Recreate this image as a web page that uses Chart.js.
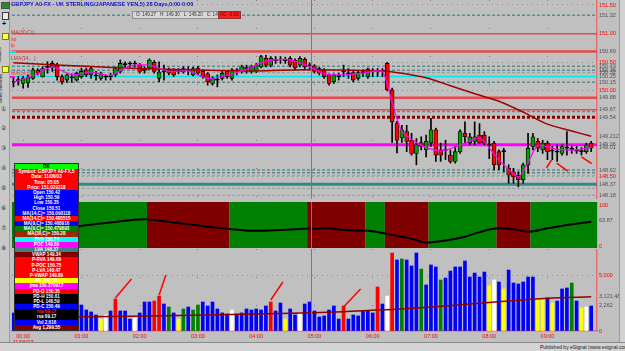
<!DOCTYPE html>
<html>
<head>
<meta charset="utf-8">
<script src="https://cdn.jsdelivr.net/npm/chart.js@4.4.1/dist/chart.umd.min.js"></script>
<style>
  html, body { margin: 0; padding: 0; background: #c0c0c0; }
  #wrap { position: relative; width: 625px; height: 351px; overflow: hidden; background: #c0c0c0; font-family: "Liberation Sans", Arial, sans-serif; }
  #wrap canvas { position: absolute; left: 0; }
  .abs { position: absolute; white-space: nowrap; }
  #dw { position: absolute; left: 14px; top: 163px; width: 63px; border: 1px solid #303030; background: #000; }
  #dw div { height: 5.2px; line-height: 5.3px; font-size: 4.6px; font-weight: bold; text-align: center; color: #fff; overflow: hidden; white-space: nowrap; }
  #toolbar { position: absolute; left: 0; top: 0; width: 9px; height: 342px; border-right: 1px solid #9a9a9a; background: #c8c8c8; }
  #status { position: absolute; left: 0; top: 342px; width: 625px; height: 9px; background: #d4d4d4; border-top: 1px solid #8a8a8a; }
</style>
</head>
<body>
<div id="wrap">
  <canvas id="price" width="625" height="199" style="top:0px"></canvas>
  <canvas id="osc" width="625" height="46" style="top:202px"></canvas>
  <canvas id="vol" width="625" height="97" style="top:249px"></canvas>
</div>
<script>
// 5 minute bars, 23:50 .. 09:45
const times = [];
for (let k = 0; k < 120; k++) {
  const m = (23 * 60 + 50 + 5 * k) % 1440;
  times.push(String(Math.floor(m / 60)).padStart(2, '0') + ':' + String(m % 60).padStart(2, '0'));
}
const hourTicks = [2, 14, 26, 38, 50, 62, 74, 86, 98, 110];
const hourLabels = ['00:00', '01:00', '02:00', '03:00', '04:00', '05:00', '06:00', '07:00', '08:00', '09:00'];

const opens = [
  150.16,150.18,150.13,150.14,150.22,150.36,150.25,150.42,150.40,150.45,
  150.25,150.19,150.24,150.19,150.25,150.37,150.28,150.27,150.22,150.24,
  150.26,150.28,150.34,150.47,150.48,150.47,150.45,150.37,150.40,150.50,
  150.22,150.33,150.37,150.37,150.34,150.33,150.36,150.28,150.40,150.34,
  150.30,150.13,150.19,150.22,150.34,150.22,150.36,150.34,150.39,150.34,
  150.35,150.42,150.57,150.45,150.54,150.54,150.53,150.57,150.54,150.45,
  150.55,150.45,150.44,150.39,150.37,150.28,150.16,150.25,150.33,150.31,
  150.32,150.22,150.32,150.25,150.34,150.35,150.34,150.48,150.02,149.44,
  149.18,149.29,149.14,148.91,149.10,148.97,149.09,149.32,148.97,148.97,
  148.88,148.77,148.94,149.26,149.09,149.12,149.23,149.23,149.06,149.09,
  148.94,148.95,148.65,148.59,148.53,148.45,148.71,149.03,149.12,148.97,
  149.09,148.96,148.94,148.91,149.00,148.98,148.96,148.95,148.94,149.09];
const highs = [
  150.22,150.25,150.26,150.28,150.40,150.39,150.42,150.51,150.52,150.48,
  150.28,150.30,150.30,150.33,150.40,150.40,150.42,150.34,150.33,150.28,
  150.31,150.42,150.54,150.51,150.51,150.52,150.48,150.42,150.56,150.53,
  150.51,150.45,150.40,150.39,150.39,150.42,150.42,150.41,150.43,150.37,
  150.32,150.25,150.28,150.34,150.36,150.39,150.39,150.45,150.45,150.45,
  150.48,150.62,150.62,150.60,150.60,150.60,150.59,150.60,150.56,150.60,
  150.58,150.49,150.46,150.41,150.39,150.30,150.30,150.31,150.45,150.39,
  150.34,150.34,150.37,150.40,150.39,150.39,150.39,150.50,150.05,149.47,
  149.40,149.40,149.26,149.17,149.20,149.23,149.52,149.35,149.09,149.14,
  148.97,149.03,149.32,149.46,149.26,149.46,149.43,149.29,149.20,149.12,
  148.97,149.00,148.71,148.65,148.59,148.74,149.26,149.26,149.17,149.14,
  149.12,149.03,149.06,149.06,149.29,149.03,149.03,149.01,149.09,149.12];
const lows = [
  150.07,150.10,150.05,150.06,150.20,150.28,150.24,150.31,150.34,150.19,
  150.12,150.15,150.15,150.17,150.22,150.25,150.22,150.19,150.19,150.19,
  150.19,150.25,150.31,150.40,150.42,150.42,150.31,150.31,150.38,150.31,
  150.16,150.19,150.28,150.25,150.30,150.31,150.28,150.26,150.28,150.22,
  150.10,150.10,150.07,150.19,150.22,150.19,150.28,150.31,150.31,150.31,
  150.32,150.40,150.42,150.42,150.48,150.48,150.48,150.42,150.37,150.42,
  150.39,150.39,150.31,150.28,150.22,150.10,150.13,150.19,150.25,150.22,
  150.16,150.19,150.25,150.22,150.25,150.25,150.25,150.00,149.10,148.92,
  149.10,148.94,148.88,148.71,148.97,148.85,149.03,148.77,148.77,148.80,
  148.74,148.74,148.91,149.09,149.06,149.06,149.09,149.06,148.82,148.62,
  148.62,148.59,148.39,148.39,148.33,148.39,148.56,148.97,148.94,148.91,
  148.80,148.80,148.77,148.88,148.88,148.91,148.91,148.88,148.91,148.94];
const closes = [
  150.15,150.19,150.22,150.24,150.37,150.31,150.39,150.41,150.48,150.25,
  150.16,150.28,150.23,150.31,150.34,150.28,150.39,150.26,150.30,150.25,
  150.25,150.39,150.48,150.46,150.47,150.48,150.34,150.36,150.54,150.34,
  150.33,150.34,150.31,150.28,150.35,150.39,150.37,150.39,150.31,150.25,
  150.16,150.22,150.20,150.31,150.25,150.37,150.35,150.42,150.40,150.42,
  150.45,150.60,150.45,150.57,150.53,150.55,150.54,150.45,150.40,150.57,
  150.42,150.44,150.34,150.31,150.25,150.13,150.28,150.26,150.34,150.30,
  150.19,150.32,150.33,150.38,150.35,150.34,150.35,150.02,149.46,149.14,
  149.32,149.12,148.91,149.06,149.03,149.12,149.32,148.88,148.88,148.96,
  148.77,148.94,149.29,149.20,149.20,149.20,149.09,149.09,149.05,148.71,
  148.71,148.94,148.53,148.50,148.45,148.71,149.00,149.20,149.00,149.09,
  148.94,148.95,148.93,149.03,149.01,148.98,148.95,148.94,149.06,149.00];

const volumes = [
  1630,1990,2260,1810,2440,2170,1720,2080,2350,1900,
  2170,1810,1990,2530,2350,1900,1720,1450,1080,1450,
  1810,2890,1810,1810,1080,1180,1630,2620,2620,2710,
  3160,2440,2170,1630,1080,1990,2170,1900,2350,2620,
  2260,2620,1990,1630,1540,1900,1540,1630,1990,1900,
  1990,1900,2260,2620,1810,2530,1080,1990,1450,1630,
  2440,2620,1810,1270,1360,1900,2260,1080,2260,1080,
  1450,1360,1810,1810,1630,3980,2440,3160,7050,6420,
  6510,6420,5880,7050,5600,4160,5970,5790,4610,4790,
  5420,5790,5790,6330,4880,5240,4880,5330,4070,4610,
  4430,3800,5510,4340,4250,4430,4880,4880,2890,2890,
  2980,2530,2710,3800,3890,4340,2710,2080,2170,2260];
const volKinds = 'bbbbbbbbbb' + 'bbbbbbbbyw' + 'brbbbwbbbr' + 'rbgbygbggb' + 'bbbbbwbbbb' + 'bbbrbbybbw' +
                 'bbbbbbbbrb' + 'bbbbbrbwrb' + 'gbbbgbbbgb' + 'bbbbbbbbyw' + 'bybbbbbbyy' + 'bybbbgbywb';

// moving averages, read at a few bars
const maIdx = [0, 10, 20, 35, 50, 60, 70, 76, 80, 85, 90, 95, 100, 105, 110, 115, 119];
const maVal = [150.49, 150.45, 150.41, 150.37, 150.35, 150.37, 150.36, 150.35, 150.31, 150.23, 150.09, 149.95, 149.82, 149.63, 149.42, 149.30, 149.21];
const jmaIdx = [0, 5, 8, 12, 16, 20, 24, 28, 32, 36, 40, 44, 48, 52, 56, 60, 64, 68, 72, 76, 78, 80, 84, 88, 92, 96, 100, 104, 106, 108, 112, 116, 119];
const jmaVal = [150.15, 150.30, 150.42, 150.28, 150.33, 150.27, 150.44, 150.45, 150.34, 150.35, 150.22, 150.27, 150.38, 150.52, 150.55, 150.46, 150.30, 150.28, 150.31, 150.34, 149.80, 149.30, 149.05, 148.95, 149.05, 149.18, 148.80, 148.50, 148.75, 149.05, 148.98, 148.97, 149.02];
const avgIdx = [0, 13, 28, 40, 55, 68, 75, 79, 89, 100, 110, 119];
const avgVal = [1270, 1290, 1360, 1450, 1580, 1745, 1900, 1960, 2260, 2650, 2960, 3100];
const oscIdx = [0, 5, 13, 20, 27, 33, 40, 45, 50, 55, 60, 65, 68, 73, 76, 79, 82, 85, 89, 93, 96, 100, 103, 106, 110, 114, 119];
const oscVal = [20, 30, 48, 58, 66, 58, 48, 42, 38, 40, 43, 44, 40, 38, 33, 26, 19, 10, 15, 24, 35, 44, 42, 36, 44, 52, 60];
const oscZones = [[-0.5, 27.5, 'g'], [27.5, 44.5, 'r'], [44.5, 60.5, 'g'], [60.5, 72.5, 'r'], [72.5, 76.5, 'g'],
                  [76.5, 85.5, 'r'], [85.5, 99.5, 'g'], [99.5, 106.5, 'r'], [106.5, 120.2, 'g']];

// horizontal levels on the price panel
const levels = [151.32, 151.00, 150.69, 150.43, 150.36, 150.32, 150.25, 150.15, 149.88, 149.67, 149.64, 149.54, 149.06, 148.62, 148.57, 148.52, 148.37, 148.30, 148.18];
const levelKinds = ['dash', 'red', 'redThick', 'dash', 'dash', 'dashLight', 'cyan', 'dash', 'redThick', 'red', 'dash', 'maroon', 'magenta', 'dash', 'dash', 'dashLight', 'teal', 'dashLight', 'dashLight'];

// drawn trend marks: [fromBar, fromValue, toBar, toValue]
const priceMarks = [[109.8, 148.66, 110.9, 148.80], [111.9, 148.74, 114.2, 148.60], [117.0, 148.85, 119.1, 148.73]];
const volMarks = [[21, 2980, 24.3, 4700], [30, 3250, 31.4, 5060], [53, 2800, 55.5, 4430], [68, 2170, 71.5, 3800]];
const cursorBar = 61.3;

const priceTicks = [151.50, 151.32, 151.00, 150.69, 150.50, 150.43, 150.36, 150.32, 150.25, 150.15, 150.00, 149.88, 149.67, 149.54, 149.2124, 149.06, 149.01, 148.62, 148.50, 148.37, 148.18];
const priceRound = [151.50, 151.00, 150.50, 150.00, 148.50];
const oscTicks = [0, 63.87, 100];
const volTicks = [0, 2262, 3121.48, 5000];
const volTickText = ['0', '2,262', '3,121.48', '5,000'];

const dwText = ['OK', 'Symbol: GBPJPY A0-FX,5', 'Date: 11/06/03', 'Time: 05:05', 'Price: 151.029318', 'Open 150.42', 'High 150.59', 'Low 150.35', 'Close 150.51',
  'MA(14,C)= 150.090118', 'MA(14,C)= 150.488515', 'MA(9,C)= 150.468916', 'MA(9,C)= 150.479893', 'MA(30,C)= 150.28', 'RVA 150.74', 'POC 149.89', 'LVA 148.37',
  'VWAP 149.34', 'P-RVA 149.69', 'P-POC 150.75', 'P-LVA 149.47', 'P-VWAP 149.89', 'PL 149.59', 'jma 150.370917', 'PD-O 150.35', 'PD-H 150.61', 'PD-L 148.59',
  'PD-C 150.49', 'rsa 69.17', 'rsa 69.17', 'Vol 2,616', 'Avg 1,299.55'];
const dwBg = ['#00ff00', '#ff0000', '#ff0000', '#ff0000', '#ff0000', '#0000ff', '#0000ff', '#0000ff', '#0000ff', '#0000ff', '#ff0000', '#0000ff', '#008000', '#a02800',
  '#00ffff', '#ff00ff', '#408080', '#800000', '#ff0000', '#ff0000', '#ff0000', '#ff0000', '#ffff00', '#ff00ff', '#ff0000', '#000000', '#000000', '#0000ff',
  '#000000', '#000000', '#0000ff', '#800000'];

const X_MIN = -0.3, X_MAX = 120.2;
const FONT = { family: 'Liberation Sans, Arial, sans-serif', size: 5.5 };
const kindColor = { b: '#0000ff', r: '#ff0000', g: '#008000', y: '#ffff00', w: '#ffffff' };
const levelStyle = {
  dash: { c: '#5a8e8e', w: 1.5, d: [3, 2] },
  dashLight: { c: '#8aa0a0', w: 1, d: [3, 2] },
  red: { c: '#e84848', w: 1.5, d: [] },
  redThick: { c: '#e84848', w: 2.5, d: [] },
  cyan: { c: '#00e8e8', w: 1.5, d: [] },
  maroon: { c: '#8b0000', w: 3, d: [3, 2] },
  magenta: { c: '#ff00ff', w: 3, d: [] },
  teal: { c: '#3a8585', w: 3, d: [] }
};

const pts = (idx, val) => idx.map((k, j) => ({ x: k, y: val[j] }));
const markSets = (marks) => marks.map(m => ({
  type: 'line', data: [{ x: m[0], y: m[1] }, { x: m[2], y: m[3] }],
  borderColor: '#ff0000', borderWidth: 1.5, pointRadius: 0, order: 0
}));

const cursorPlugin = {
  id: 'cursor',
  afterDatasetsDraw(chart) {
    const { ctx, chartArea } = chart;
    const x = Math.round(chart.scales.x.getPixelForValue(cursorBar)) + 0.5;
    ctx.save();
    ctx.strokeStyle = '#a06868';
    ctx.lineWidth = 1;
    ctx.beginPath();
    ctx.moveTo(x, chartArea.top);
    ctx.lineTo(x, chartArea.bottom);
    ctx.stroke();
    ctx.restore();
  }
};

const zonePlugin = {
  id: 'zones',
  beforeDatasetsDraw(chart) {
    const { ctx, chartArea } = chart;
    const xs = chart.scales.x;
    ctx.save();
    oscZones.forEach(z => {
      const x1 = xs.getPixelForValue(Math.max(z[0], X_MIN));
      const x2 = xs.getPixelForValue(Math.min(z[1], X_MAX));
      ctx.fillStyle = z[2] === 'g' ? '#008000' : '#800000';
      ctx.fillRect(x1, chartArea.top, x2 - x1, chartArea.bottom - chartArea.top);
    });
    ctx.restore();
  }
};

function xAxis(showLabels) {
  return {
    type: 'linear', min: X_MIN, max: X_MAX, offset: false,
    afterBuildTicks: s => { s.ticks = hourTicks.map(v => ({ value: v })); },
    afterFit: s => { s.height = showLabels ? 15 : 0; s.paddingLeft = 0; s.paddingRight = 0; },
    grid: { offset: false, drawTicks: false, color: '#a07070', lineWidth: 1 },
    border: { display: showLabels, color: '#e07070', width: 1.5, dash: [1, 27] },
    ticks: {
      display: showLabels, padding: 2, color: '#ff0000', font: FONT, maxRotation: 0, autoSkip: false,
      callback: v => {
        const j = hourTicks.indexOf(v);
        if (j < 0) return '';
        return j === 0 ? [hourLabels[j], '11/06/03'] : hourLabels[j];
      }
    }
  };
}

function yAxis(min, max, tickVals, textFn, isRed, gridOn) {
  return {
    position: 'right', min: min, max: max,
    afterBuildTicks: s => { s.ticks = tickVals.map(v => ({ value: v })); },
    afterFit: s => { s.width = 28; s.paddingTop = 0; s.paddingBottom = 0; },
    grid: { drawTicks: false, color: c => (c.tick && gridOn(c.tick.value)) ? '#8c8c8c' : 'rgba(0,0,0,0)' },
    border: { display: true, color: '#e87070', width: 1.5, dash: [1, 4] },
    ticks: {
      padding: 2, autoSkip: false, font: FONT, crossAlign: 'near',
      color: c => isRed(c.tick.value) ? '#ff0000' : '#505050',
      callback: v => textFn(v)
    }
  };
}

const baseOpts = {
  responsive: false, animation: false, devicePixelRatio: 1,
  layout: { padding: { left: 12, right: 0, top: 0, bottom: 0 } },
  plugins: { legend: { display: false }, tooltip: { enabled: false } }
};

// price panel
const levelSets = levels.map((lv, j) => {
  const st = levelStyle[levelKinds[j]];
  return {
    type: 'line', data: [{ x: X_MIN, y: lv }, { x: X_MAX, y: lv }],
    borderColor: st.c, borderWidth: st.w, borderDash: st.d, pointRadius: 0, order: 20
  };
});
const bodyColors = opens.map((o, i) => closes[i] > o + 0.015 ? '#00a000' : (closes[i] < o - 0.015 ? '#ff0000' : '#000000'));

new Chart(document.getElementById('price'), {
  type: 'bar',
  data: {
    datasets: [
      ...levelSets,
      { type: 'bar', data: opens.map((o, i) => ({ x: i, y: [lows[i], highs[i]] })), backgroundColor: '#000000',
        barThickness: 1, grouped: false, order: 10 },
      { type: 'bar', data: opens.map((o, i) => ({ x: i, y: [o, closes[i]] })), backgroundColor: bodyColors,
        borderColor: '#000000', borderWidth: 0.8, borderSkipped: false, barThickness: 4, minBarLength: 1, grouped: false, order: 9 },
      { type: 'line', data: pts(maIdx, maVal), borderColor: '#a00000', borderWidth: 1.5, pointRadius: 0, tension: 0.3, order: 5 },
      { type: 'line', data: pts(jmaIdx, jmaVal), borderColor: '#ff00ff', borderWidth: 1.2, pointRadius: 0, tension: 0.2, order: 4 },
      ...markSets(priceMarks)
    ]
  },
  options: {
    ...baseOpts,
    scales: {
      x: xAxis(false),
      y: yAxis(148.114, 151.587, priceTicks,
        v => (v === 149.2124 ? '149.2124' : v.toFixed(2)),
        v => priceRound.includes(v),
        v => priceRound.includes(v))
    }
  },
  plugins: [cursorPlugin]
});

// oscillator panel
new Chart(document.getElementById('osc'), {
  type: 'line',
  data: { datasets: [{ data: pts(oscIdx, oscVal), borderColor: '#000000', borderWidth: 2, pointRadius: 0, tension: 0.4, cubicInterpolationMode: 'monotone' }] },
  options: {
    ...baseOpts,
    scales: {
      x: xAxis(false),
      y: yAxis(-3.1, 107.2, oscTicks, v => (v === 63.87 ? '63.87' : String(v)), v => v !== 63.87, () => false)
    }
  },
  plugins: [zonePlugin, cursorPlugin]
});

// volume panel
new Chart(document.getElementById('vol'), {
  type: 'bar',
  data: {
    datasets: [
      { type: 'bar', data: volumes.map((v, i) => ({ x: i, y: v })), backgroundColor: volumes.map((v, i) => kindColor[volKinds[i]]),
        barThickness: 3, grouped: false, order: 10 },
      { type: 'line', data: pts(avgIdx, avgVal), borderColor: '#8b0000', borderWidth: 1.5, pointRadius: 0, tension: 0.3, order: 5 },
      ...markSets(volMarks)
    ]
  },
  options: {
    ...baseOpts,
    scales: {
      x: xAxis(true),
      y: yAxis(0, 7413, volTicks, v => volTickText[volTicks.indexOf(v)] || '', v => v === 0 || v === 5000, v => v === 5000)
    }
  },
  plugins: [cursorPlugin]
});

// overlays: toolbar, title, labels, data window, status bar
const wrap = document.getElementById('wrap');
function addDiv(html, css) {
  const d = document.createElement('div');
  d.className = 'abs';
  d.innerHTML = html;
  d.style.cssText += css;
  wrap.appendChild(d);
  return d;
}
addDiv('', 'left:0;top:0;width:9px;height:342px;border-right:1px solid #9a9a9a;background:#c8c8c8;');
addDiv('', 'left:1px;top:2px;width:7px;height:5px;background:#2a8a2a;border:1px solid #505050;');
addDiv('', 'left:2px;top:12px;width:5px;height:6px;background:#e8e8e8;border:1px solid #404040;');
addDiv('+', 'left:2px;top:20px;font-size:7px;font-weight:bold;color:#000;');
addDiv('', 'left:2px;top:33px;width:5px;height:5px;background:#ffff60;border:1px solid #808000;');
addDiv('Studies', 'left:-8px;top:52px;font-size:4.5px;color:#202020;transform:rotate(-90deg);');
addDiv('', 'left:2px;top:66px;width:5px;height:5px;background:#ffff60;border:1px solid #808000;');
addDiv('Other Intervals', 'left:-14px;top:86px;font-size:4.5px;color:#202020;transform:rotate(-90deg);');
['105', '124', '144', '164', '184', '204', '224', '244'].forEach((t, j) => {
  addDiv(String.fromCharCode(0x2460 + j), 'left:1px;top:' + t + 'px;font-size:6px;color:#202020;');
});
addDiv('', 'left:619px;top:0;width:6px;height:342px;background:#d2d2d2;border-left:1px solid #9a9a9a;');

addDiv('GBPJPY A0-FX - UK STERLING/JAPANESE YEN,5) 28 Days,0:00-0:00', 'left:11px;top:1px;font-size:5.6px;color:#1010d0;font-weight:bold;');
addDiv('O: 149.27 &nbsp; H: 149.30 &nbsp; L: 149.20 &nbsp; C: 149.24', 'left:132px;top:11px;height:6px;line-height:6px;padding:0 3px;font-size:4.6px;color:#303030;background:#d8d8d8;border:1px solid #909090;');
addDiv('NC -0.03', 'left:218px;top:11px;width:21px;height:6px;line-height:6px;font-size:4.6px;text-align:center;color:#600000;background:#ff2020;border:1px solid #903030;');

addDiv('MA(30,Cr)', 'left:11px;top:29px;font-size:5px;color:#d03030;');
addDiv('sp', 'left:11px;top:36px;font-size:5px;color:#ff2020;');
addDiv('lp', 'left:11px;top:42px;font-size:5px;color:#ff2020;');
addDiv('', 'left:10px;top:51px;width:6px;height:2px;background:#00e8e8;');
addDiv('LMA(14,...)', 'left:11px;top:55px;font-size:5px;color:#d03030;');
addDiv('MA(14,C)', 'left:11px;top:70px;font-size:5px;color:#ff3030;');
addDiv('', 'left:10px;top:76px;width:5px;height:2px;background:#ff00ff;');

const dw = document.createElement('div');
dw.id = 'dw';
dwText.forEach((t, j) => {
  const r = document.createElement('div');
  r.textContent = t;
  r.style.background = dwBg[j];
  if (j === 0) r.style.color = '#000';
  if (j === 28) r.style.color = '#ff2020';
  dw.appendChild(r);
});
wrap.appendChild(dw);

addDiv('', 'left:0;top:342px;width:625px;height:9px;background:#d4d4d4;border-top:1px solid #8a8a8a;');
addDiv('Published by eSignal (www.esignal.com)', 'left:540px;top:344px;font-size:5px;color:#202020;');
</script>
</body>
